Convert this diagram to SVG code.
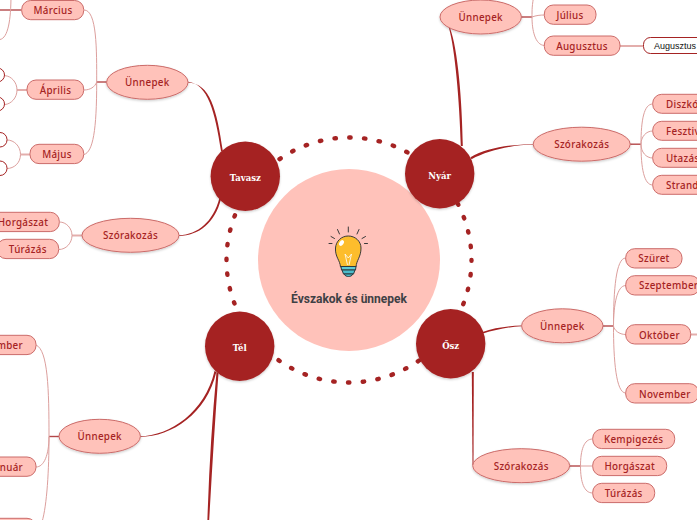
<svg xmlns="http://www.w3.org/2000/svg" width="697" height="520" viewBox="0 0 697 520">
<style>
.t{fill:#a52323;stroke:none}
.s{fill:none;stroke:#b4484a;stroke-width:1.4}
.sl{fill:none;stroke:#e3aeac;stroke-width:2}
.c{fill:none;stroke:#dc9f9d;stroke-width:1}
.n{fill:#ffc2ba;stroke:#cb6b69;stroke-width:1}
.w{fill:#fff;stroke:#a52323;stroke-width:1}
.l{font-family:"Noto Sans","Open Sans",sans-serif;font-size:9.8px;font-weight:500;letter-spacing:.3px;fill:#a52323;text-anchor:middle}
.h{font-family:"DejaVu Serif","Liberation Serif",serif;font-size:8.500px;font-weight:700;fill:#fff;text-anchor:middle}
.big{fill:#a52323;filter:url(#sh)}
.e{filter:url(#sh)}
.ray{stroke:#3a3a3a;stroke-width:1;stroke-linecap:round;fill:none}
</style>
<defs><filter id="sh" x="-10%" y="-10%" width="120%" height="130%"><feDropShadow dx="0" dy="1.2" stdDeviation="1" flood-color="#000" flood-opacity=".2"/></filter></defs>
<rect width="697" height="520" fill="#fff"/>
<circle id="center-disc" cx="349" cy="260" r="91" fill="#ffc2ba"/>
<g id="connectors">
<circle cx="349" cy="260" r="122.500" fill="none" stroke="#a52323" stroke-width="4.400" stroke-linecap="round" stroke-dasharray="1.400 13.420" stroke-dashoffset=".7"/>
<path class="t" d="M188,81.800C208,84 215,112 221,151L222.800,151C217,110 210,83 188,82.500Z"/>
<path class="t" d="M179,235.200C198,234.500 213,222 219.500,198L221,199C215,223 199,235.500 179,235.900Z"/>
<path class="t" d="M140,436.200C170,436 205,412 214.500,371L216.300,372C207,413 172,436.800 140,436.900Z"/>
<path class="t" d="M216.500,372L218.500,373C215,420 212,470 209.200,520L207.400,520C209,470 212,420 216.500,372Z"/>
<path class="t" d="M449,28C455,50 459.500,100 460.800,146L462.800,146C462,100 458,50 450,28Z"/>
<path class="t" d="M533.300,143.900C510,144.500 486,148 470.500,157.300L471.500,159.300C488,150.500 510,145.300 533.300,144.600Z"/>
<path class="t" d="M521.700,325.600C508,326 494,328 482.500,332L483,333.500C495,330 508,326.800 521.700,326.300Z"/>
<path class="t" d="M471.800,372L473.800,372L473.500,465L472.500,465Z"/>
<path class="s" d="M106.700,82H96.700"/>
<path class="c" d="M96.700,82C96.700,50 97,10 84,10M96.700,82C95,87 90,90 84,90M96.700,82C96.700,130 93,152 84,154.500"/>
<path class="s" d="M21.700,10H0"/>
<path class="c" d="M11,-5C11,20 8,38 0,39.500"/>
<path class="sl" d="M27,90H17"/>
<path class="c" d="M17,90C17,82 11,76 5,75.700M17,90C17,98 11,104 5,104.500"/>
<path class="sl" d="M30,154.500H20.500"/>
<path class="c" d="M20.500,154.500C20.500,146 14,140 7,140M20.500,154.500C20.500,163 14,168.500 7,168.500"/>
<path class="sl" d="M82,235.500H72"/>
<path class="c" d="M72,235.500C72,228 66,222 59.500,222M72,235.500C72,243 66,249.500 59,249.500"/>
<path class="s" d="M59.300,436.500H49"/>
<path class="c" d="M49,436.500C49,390 48,350 36,345M49,436.500C49,455 44,467 36,467M49,436.500C49,470 47,505 42,522"/>
<path class="s" d="M521.300,17H532"/>
<path class="c" d="M532,17C532,10 532,5 534,-5M532,17C536,15.500 540,15 544.500,15M532,17C532,30 535,45 544.500,45.500"/>
<path class="sl" d="M620,46H643.500"/>
<path class="s" d="M630,144.200H641"/>
<path class="c" d="M641,144.200C641,120 644,104 652.700,104M641,144.200C641,137 646,131 652.700,131M641,144.200C641,152 646,158 652.700,158M641,144.200C641,168 644,185 652.700,185"/>
<path class="s" d="M603,326H613.500"/>
<path class="c" d="M613.500,326C613.500,290 616,258 625.700,258M613.500,326C613.500,305 617,285.500 625.700,285.500M613.500,326C614,330 619,334.500 625.700,334.500M613.500,326C613.500,360 616,393 625.700,393"/>
<path class="sl" d="M690.700,334.500H698"/>
<path class="s" d="M569.700,466H580.500"/>
<path class="c" d="M580.500,466C580.500,450 584,439 592.700,439"/>
<path class="c" d="M580.500,466H592.700"/>
<path class="c" d="M580.500,466C580.500,482 584,493 592.700,493"/>
</g>
<g id="center"><g id="bulb">
<path class="ray" d="M348.300,227V232M337.500,229.500L339.500,234M359,229.500L357,234M331,236.500L334.500,238.500M365.500,236.500L362,238.500M329,243.500H332M367.500,243.500H364.500"/>
<path d="M340.500,267C340,260 335,257 335.500,248C336,241 341.500,236 348.300,236C355,236 361,241 361,248C361,257 356.500,260 356,267Z" fill="#fdbd2c" stroke="#3a3a3a" stroke-width="1"/>
<path d="M345,254L347.500,265M351.500,254L349,265M345,254L348.300,258L351.500,254" fill="none" stroke="#fff" stroke-width=".8"/>
<ellipse cx="341.500" cy="243" rx="2" ry="3.200" transform="rotate(35 341.500 243)" fill="#fff"/>
<path d="M341,266.500H356L355.500,270H341.500Z" fill="#5fc9d6" stroke="#2c3a3f" stroke-width="1"/>
<path d="M342,270H355L353.500,274H343.500Z" fill="#4bbccb" stroke="#2c3a3f" stroke-width="1"/>
<path d="M344,274H353C352,276 350,276.500 348.500,276.500C347,276.500 345,276 344,274Z" fill="#4bbccb" stroke="#2c3a3f" stroke-width="1"/>
</g>
<text x="349" y="302.500" font-family="Roboto,'Liberation Sans',sans-serif" font-size="12px" font-weight="700" fill="#3e4044" text-anchor="middle">Évszakok és ünnepek</text></g>
<g id="tavasz"><circle class="big" cx="245.300" cy="176.200" r="34.700"/><text class="h" x="245.300" y="181">Tavasz</text></g>
<g id="nyar"><circle class="big" cx="439.700" cy="173.700" r="34.700"/><text class="h" x="439.700" y="178.500">Nyár</text></g>
<g id="tel"><circle class="big" cx="239.700" cy="346.200" r="34.700"/><text class="h" x="239.700" y="351">Tél</text></g>
<g id="osz"><circle class="big" cx="450.700" cy="343.800" r="34.700"/><text class="h" x="450.700" y="348.500">Ősz</text></g>
<g id="tavasz-unnepek"><ellipse class="n e" cx="147.300" cy="82.300" rx="40.700" ry="17"/><text class="l" x="147.300" y="86">Ünnepek</text></g>
<g id="tavasz-szorakozas"><ellipse class="n e" cx="130.500" cy="235.300" rx="48.500" ry="17"/><text class="l" x="130.500" y="239">Szórakozás</text></g>
<g id="tel-unnepek"><ellipse class="n e" cx="99.700" cy="436.300" rx="40.700" ry="17"/><text class="l" x="99.700" y="440">Ünnepek</text></g>
<g id="nyar-unnepek"><ellipse class="n e" cx="480.700" cy="17" rx="40.700" ry="17"/><text class="l" x="480.700" y="20.700">Ünnepek</text></g>
<g id="nyar-szorakozas"><ellipse class="n e" cx="581.700" cy="144.200" rx="48.500" ry="17"/><text class="l" x="581.700" y="148">Szórakozás</text></g>
<g id="osz-unnepek"><ellipse class="n e" cx="562.300" cy="325.800" rx="40.700" ry="17"/><text class="l" x="562.300" y="329.500">Ünnepek</text></g>
<g id="osz-szorakozas"><ellipse class="n e" cx="521.200" cy="465.700" rx="48.500" ry="17"/><text class="l" x="521.200" y="469.500">Szórakozás</text></g>
<g id="marcius"><rect class="n" x="21.700" y=".5" width="62" height="19.200" rx="9"/><text class="l" x="53" y="14">Március</text></g>
<g id="aprilis"><rect class="n" x="27" y="80" width="56.700" height="19.300" rx="9"/><text class="l" x="55.500" y="93.500">Április</text></g>
<g id="majus"><rect class="n" x="30" y="144.300" width="53.700" height="19.300" rx="9"/><text class="l" x="57" y="158">Május</text></g>
<g id="apr-a"><rect class="w" x="-20" y="68" width="24.500" height="14" rx="7"/></g>
<g id="apr-b"><rect class="w" x="-20" y="97" width="24.500" height="14" rx="7"/></g>
<g id="maj-a"><rect class="w" x="-20" y="132.500" width="27" height="14.500" rx="7"/></g>
<g id="maj-b"><rect class="w" x="-20" y="161" width="27" height="14.500" rx="7"/></g>
<g id="t-horgaszat"><rect class="n" x="-13" y="212.300" width="72.300" height="19.300" rx="9"/><text class="l" x="23" y="226">Horgászat</text></g>
<g id="t-turazas"><rect class="n" x="-3" y="239.300" width="61.700" height="19.300" rx="9"/><text class="l" x="27.800" y="253">Túrázás</text></g>
<g id="december"><rect class="n" x="-40" y="335.300" width="76" height="19.300" rx="9"/><text class="l" x="23" y="349" style="text-anchor:end">December</text></g>
<g id="januar"><rect class="n" x="-30" y="457" width="66" height="19.300" rx="9"/><text class="l" x="23" y="471" style="text-anchor:end">Január</text></g>
<g id="februar"><rect class="n" x="-30" y="518.300" width="66" height="19.300" rx="9"/></g>
<g id="julius"><rect class="n" x="544.300" y="5" width="51.700" height="19.300" rx="9"/><text class="l" x="570" y="18.500">Július</text></g>
<g id="augusztus"><rect class="n" x="544.300" y="36" width="75.700" height="19.300" rx="9"/><text class="l" x="582" y="49.500">Augusztus</text></g>
<g id="augusztus-w"><rect class="w" x="643.500" y="37.500" width="75" height="16" rx="7"/><text x="654" y="49" font-family="'Liberation Sans',sans-serif" font-size="9px" fill="#111">Augusztus</text></g>
<g id="diszko"><rect class="n" x="652.700" y="94.300" width="70" height="19" rx="9"/><text class="l" x="666" y="107.800" style="text-anchor:start">Diszkó</text></g>
<g id="fesztival"><rect class="n" x="652.700" y="121.300" width="70" height="19" rx="9"/><text class="l" x="666" y="134.800" style="text-anchor:start">Fesztivál</text></g>
<g id="utazas"><rect class="n" x="652.700" y="148.300" width="70" height="19" rx="9"/><text class="l" x="666" y="161.800" style="text-anchor:start">Utazás</text></g>
<g id="strand"><rect class="n" x="652.700" y="175.300" width="70" height="19" rx="9"/><text class="l" x="666" y="188.800" style="text-anchor:start">Strand</text></g>
<g id="szuret"><rect class="n" x="625.700" y="248.700" width="56.300" height="19.300" rx="9"/><text class="l" x="654" y="262">Szüret</text></g>
<g id="szeptember"><rect class="n" x="625.700" y="275.700" width="74" height="19.300" rx="9"/><text class="l" x="639" y="289.300" style="text-anchor:start">Szeptember</text></g>
<g id="oktober"><rect class="n" x="625.700" y="324.700" width="65" height="19.300" rx="9"/><text class="l" x="639" y="338.500" style="text-anchor:start">Október</text></g>
<g id="november"><rect class="n" x="625.700" y="383.700" width="73" height="19.300" rx="9"/><text class="l" x="639" y="397.500" style="text-anchor:start">November</text></g>
<g id="kempigezes"><rect class="n" x="592.700" y="429.300" width="82" height="19.300" rx="9"/><text class="l" x="633.700" y="443">Kempigezés</text></g>
<g id="o-horgaszat"><rect class="n" x="592.700" y="456.300" width="74" height="19.300" rx="9"/><text class="l" x="629.700" y="470">Horgászat</text></g>
<g id="o-turazas"><rect class="n" x="592.700" y="483.300" width="62" height="19.300" rx="9"/><text class="l" x="623.700" y="497">Túrázás</text></g>
</svg>
